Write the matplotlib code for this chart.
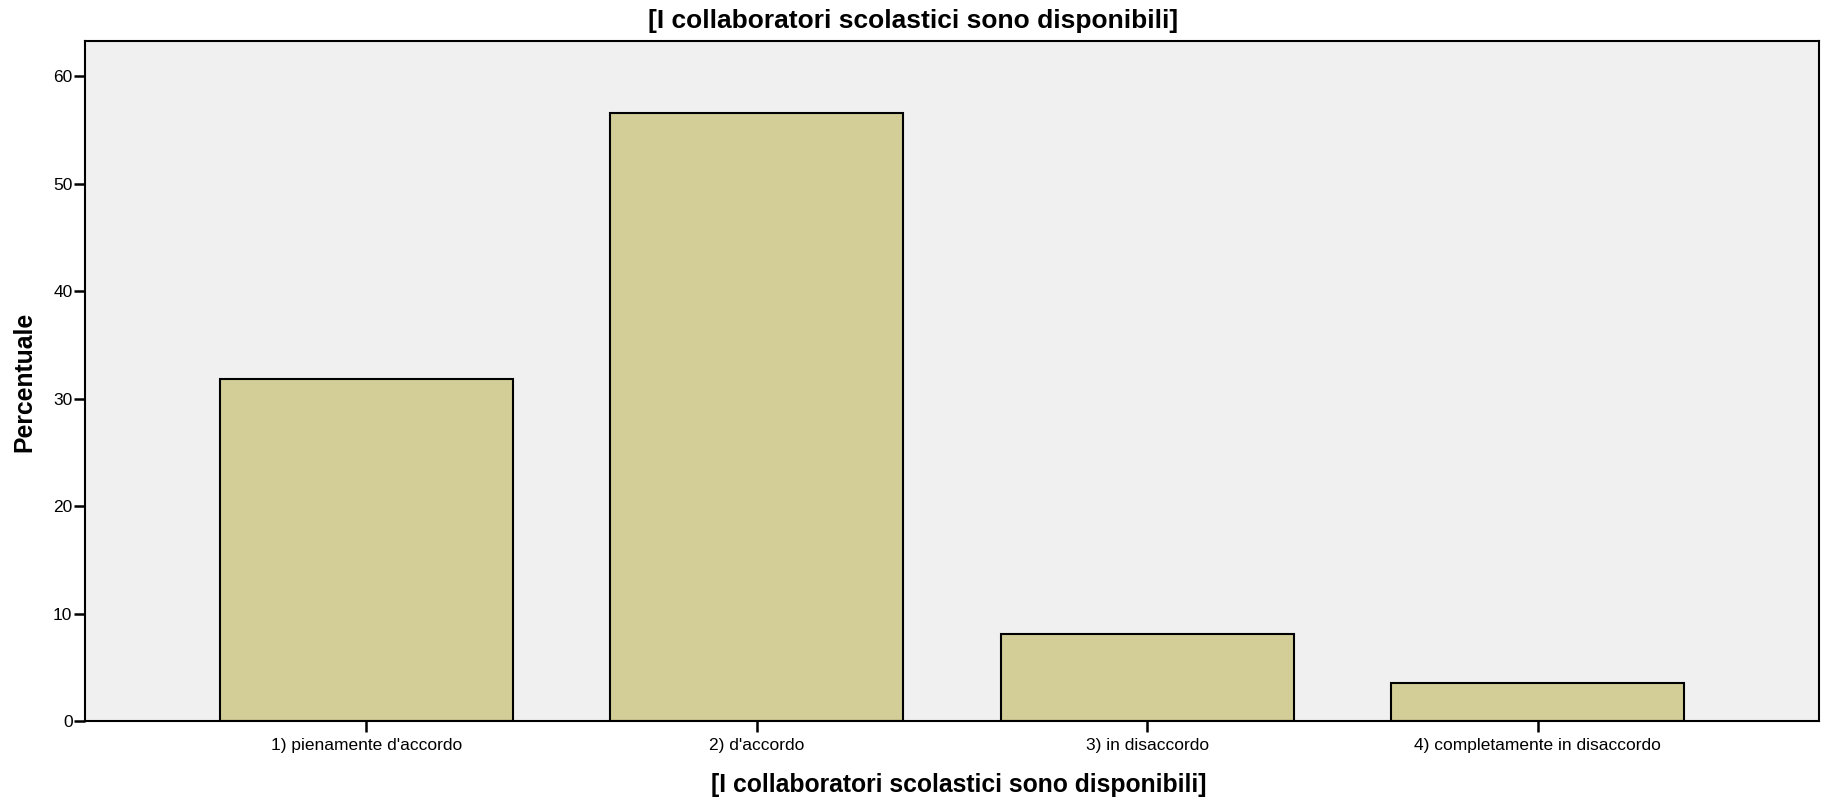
import matplotlib
matplotlib.use("Agg")
import matplotlib.pyplot as plt

categories = ["1) pienamente d'accordo", "2) d'accordo", "3) in disaccordo", "4) completamente in disaccordo"]
percent = [31.8, 56.6, 8.1, 3.5]
yticks = [0, 10, 20, 30, 40, 50, 60]
title = "[I collaboratori scolastici sono disponibili]"

plt.rcParams['font.family'] = ['Liberation Sans', 'DejaVu Sans']

W, H = 1821, 811
fig = plt.figure(figsize=(W / 100, H / 100), dpi=100)
ax = fig.add_axes([85 / W, 1 - 721 / H, (1819 - 85) / W, (721 - 41) / H])
ax.set_facecolor('#F0F0F0')

x = list(range(len(categories)))
ax.bar(x, percent, width=0.75, color='#D3CE97', edgecolor='black', linewidth=1.5, zorder=2)

ax.set_xlim(-0.72, 3.72)
ax.set_ylim(0, 63.3)
ax.set_yticks(yticks)
ax.set_xticks(x)
ax.set_xticklabels(categories, fontsize=12.5)
ax.tick_params(axis='y', labelsize=12.5, length=8, width=1.8, pad=1, direction='out')
ax.tick_params(axis='x', length=8, width=1.8, pad=4, direction='out')
for s in ax.spines.values():
    s.set_linewidth(1.5)
    s.set_color('black')

fig.text(913 / W, 1 - 21 / H, title, ha='center', va='center', fontsize=19, fontweight='bold')
fig.text(959 / W, 1 - 785 / H, title, ha='center', va='center', fontsize=17.8, fontweight='bold')
fig.text(24 / W, 1 - 382 / H, "Percentuale", ha='center', va='center', rotation=90, fontsize=17.8, fontweight='bold')

fig.savefig('out.png', dpi=100, facecolor='white')
